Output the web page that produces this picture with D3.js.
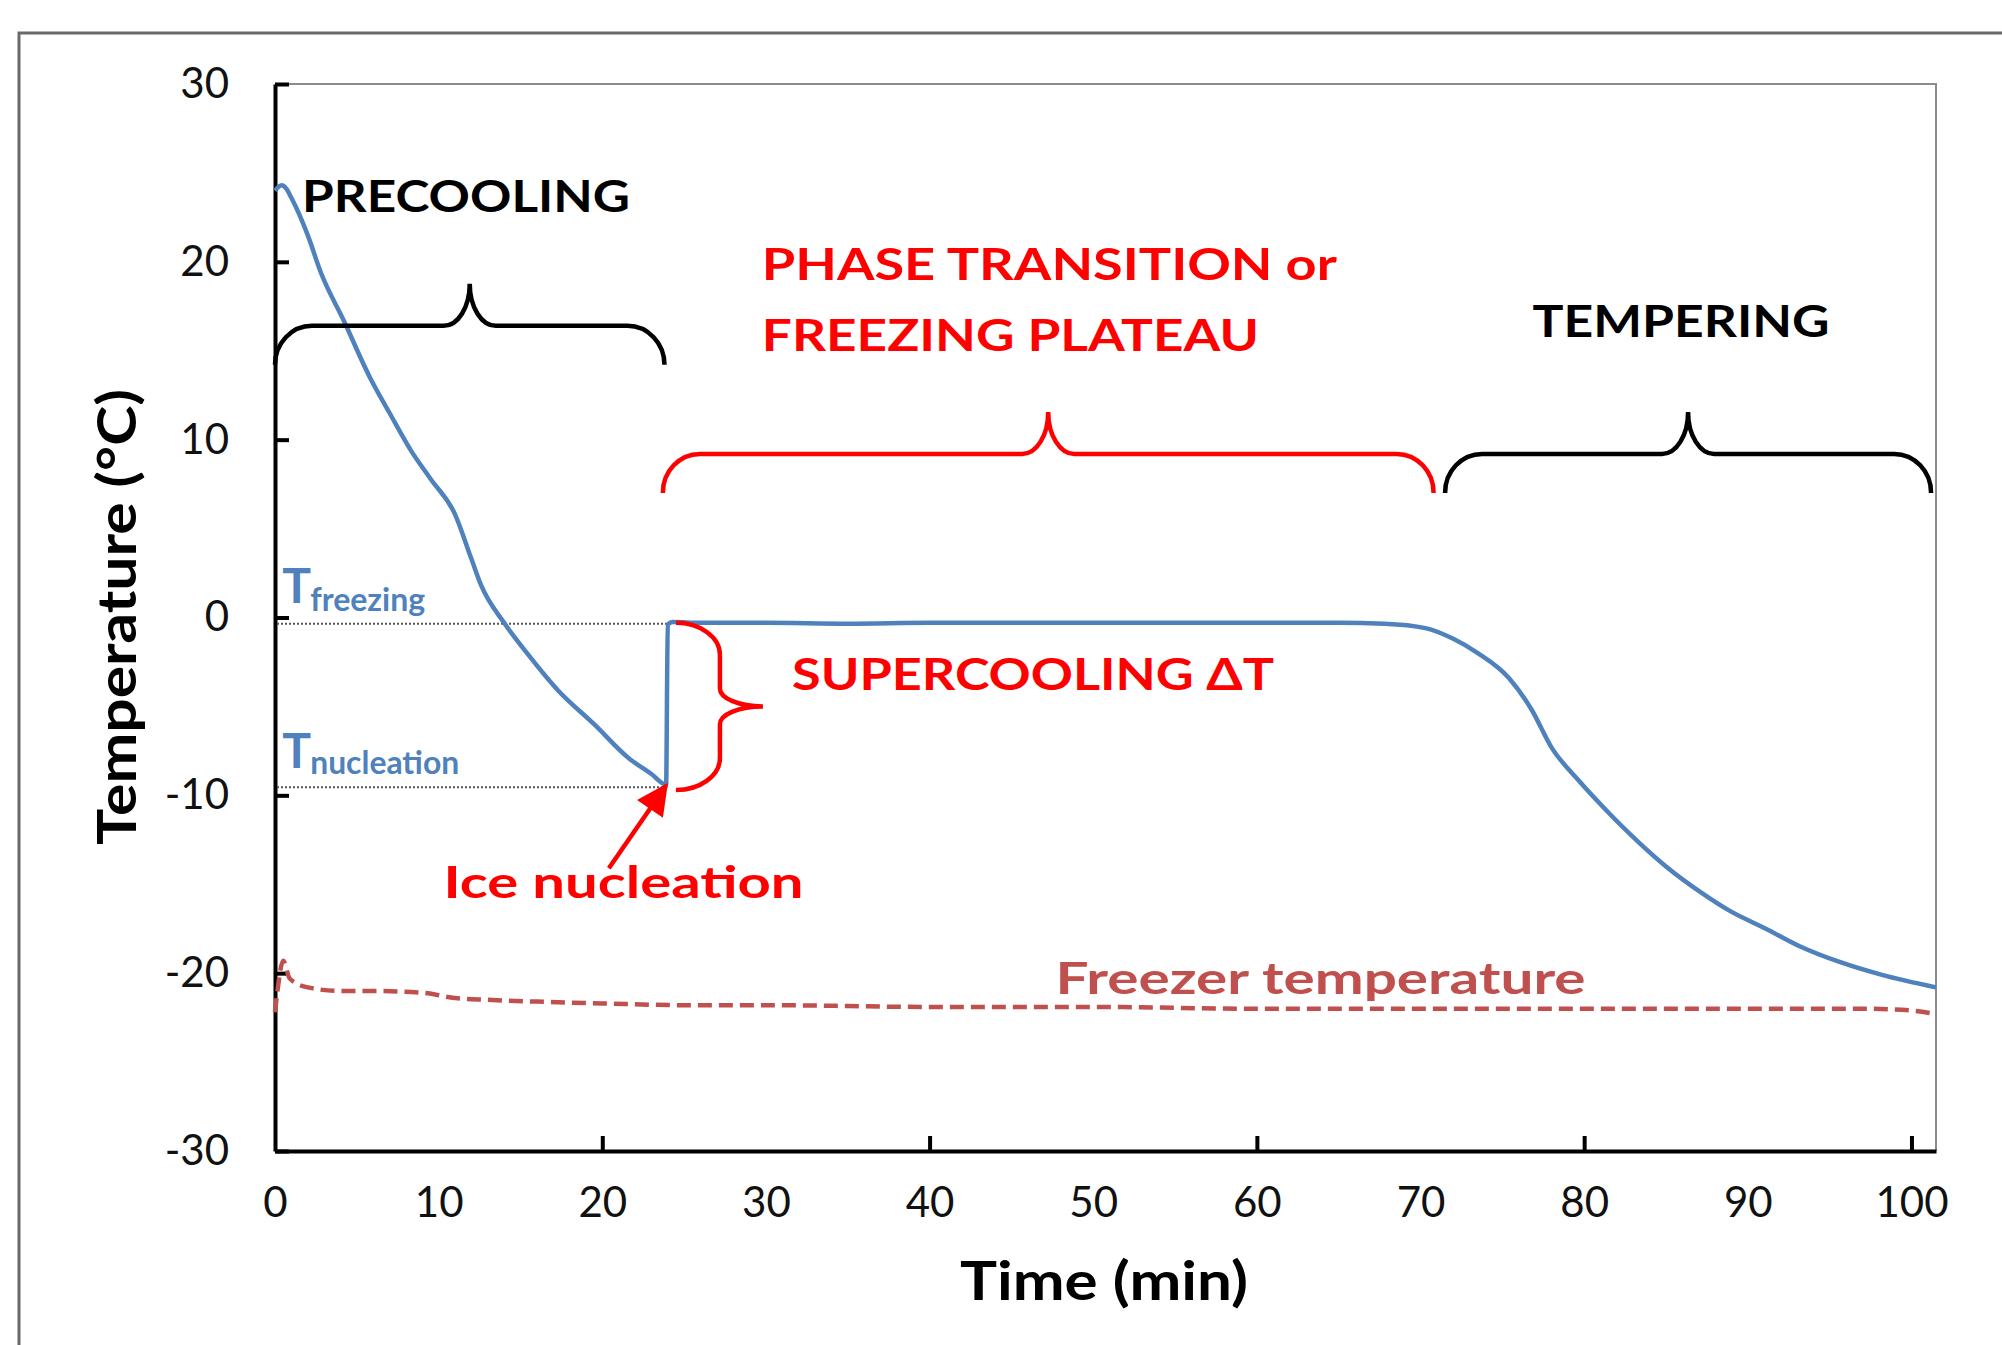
<!DOCTYPE html>
<html>
<head>
<meta charset="utf-8">
<script src="https://cdn.jsdelivr.net/npm/d3@7"></script>
<style>
  body { margin: 0; background: #fff; }
  svg { display: block; }
  text { font-family: Lato, "Open Sans", sans-serif; }
</style>
</head>
<body>
<svg id="chart"></svg>
<script>
// product temperature (blue)
const productTime = [0, 0.4, 0.7, 1.0, 2.0, 2.8, 4.2, 5.8, 7.0, 8.3, 9.5, 11.0, 12.0, 12.6, 14.0,
  15.4, 17.3, 19.5, 21.6, 23.0, 23.9, 24.0, 24.3, 26, 30, 35, 40, 45, 50, 55, 60, 65, 67.8,
  70.3, 72.0, 73.5, 75.4, 76.8, 78.0, 79.6, 81.2, 83.4, 85.0, 87.2, 88.9, 91.1, 93.2, 95.7,
  98.2, 101.5];
const productTemp = [24.0, 24.3, 24.1, 23.6, 21.5, 19.4, 16.7, 13.5, 11.5, 9.4, 7.8, 5.8, 3.3,
  1.8, -0.3, -2.0, -4.1, -6.0, -7.9, -8.8, -9.4, -0.4, -0.25, -0.3, -0.3, -0.35, -0.3, -0.3,
  -0.3, -0.3, -0.3, -0.3, -0.35, -0.6, -1.2, -2.0, -3.4, -5.2, -7.3, -9.1, -10.7, -12.7,
  -14.0, -15.5, -16.5, -17.5, -18.5, -19.4, -20.1, -20.8];

// freezer temperature (dashed red)
const freezerTime = [0, 0.15, 0.5, 0.9, 2.0, 4.0, 6.0, 9.0, 11.0, 13.0, 16.0, 20.0, 25.0, 30,
  40, 50, 60, 70, 80, 90, 97, 100, 101.5];
const freezerTemp = [-22.2, -21.0, -19.3, -20.3, -20.8, -21.0, -21.0, -21.1, -21.4, -21.5,
  -21.6, -21.7, -21.8, -21.8, -21.9, -21.9, -22.0, -22.0, -22.0, -22.0, -22.0, -22.1, -22.3];

const xTickValues = [0, 10, 20, 30, 40, 50, 60, 70, 80, 90, 100];
const yTickValues = [-30, -20, -10, 0, 10, 20, 30];

// phases marked by braces: [start, end] in minutes, brace level in °C
const phaseNames = ["PRECOOLING", "PHASE TRANSITION", "TEMPERING"];
const phaseStart = [0, 23.7, 71.5];
const phaseEnd = [23.8, 70.8, 101.2];
const phaseLevel = [16.4, 9.2, 9.2];

const freezingTemp = -0.35;
const nucleationTemp = -9.55;
const nucleationTime = 24.0;

const width = 2002, height = 1345;
const svg = d3.select("#chart").attr("width", width).attr("height", height);

const x = d3.scaleLinear().domain([0, 101.5]).range([275, 1936]);
const y = d3.scaleLinear().domain([-30, 30]).range([1151, 84]);

// outer frame of the figure
svg.append("rect")
  .attr("x", 19).attr("y", 33).attr("width", 2200).attr("height", 2000)
  .attr("fill", "none").attr("stroke", "#6a6a6a").attr("stroke-width", 3);

// thin top / right plot border
svg.append("path")
  .attr("d", `M${x(0)},${y(30)}H${x(101.5)}V${y(-30)}`)
  .attr("fill", "none").attr("stroke", "#8c8c8c").attr("stroke-width", 2);

// axes (plain hyphen minus like the original)
const fmt = d => String(d);

const xAxis = svg.append("g")
  .attr("transform", `translate(0,${y(-30)})`)
  .call(d3.axisBottom(x).tickValues(xTickValues).tickFormat(fmt)
    .tickSize(-15).tickSizeOuter(0).tickPadding(36));
xAxis.selectAll(".tick line").filter(d => d % 20 !== 0 || d === 0).remove();

const yAxis = svg.append("g")
  .attr("transform", `translate(${x(0)},0)`)
  .call(d3.axisLeft(y).tickValues(yTickValues).tickFormat(fmt)
    .tickSize(-14).tickSizeOuter(0).tickPadding(46));

[xAxis, yAxis].forEach(g => {
  g.select(".domain").attr("stroke", "#000").attr("stroke-width", 4);
  g.selectAll(".tick line").attr("stroke", "#000").attr("stroke-width", 4);
  g.selectAll(".tick text")
    .attr("fill", "#111").style("font-size", "42px").style("font-family", "Lato");
});

svg.append("text")
  .attr("x", 1104).attr("y", 1300)
  .attr("text-anchor", "middle")
  .style("font-size", "54px").style("font-weight", "bold")
  .attr("textLength", 288).attr("lengthAdjust", "spacingAndGlyphs")
  .text("Time (min)");

svg.append("text")
  .attr("transform", "translate(136,617) rotate(-90)")
  .attr("text-anchor", "middle")
  .style("font-size", "54px").style("font-weight", "bold")
  .attr("textLength", 456).attr("lengthAdjust", "spacingAndGlyphs")
  .text("Temperature (°C)");

// dotted reference lines for T freezing / T nucleation
[freezingTemp, nucleationTemp].forEach(t => {
  svg.append("line")
    .attr("x1", x(0) + 2).attr("x2", x(nucleationTime))
    .attr("y1", y(t)).attr("y2", y(t))
    .attr("stroke", "#555").attr("stroke-width", 2).attr("stroke-dasharray", "2,2");
});

const line = d3.line().x(d => x(d[0])).y(d => y(d[1])).curve(d3.curveMonotoneX);

svg.append("path")
  .datum(d3.zip(freezerTime, freezerTemp))
  .attr("d", line)
  .attr("fill", "none").attr("stroke", "#C0504D").attr("stroke-width", 4.5)
  .attr("stroke-dasharray", "14,7");

svg.append("path")
  .datum(d3.zip(productTime, productTemp))
  .attr("d", line)
  .attr("fill", "none").attr("stroke", "#4F81BD").attr("stroke-width", 4.5)
  .attr("stroke-linejoin", "round");

// curly braces
function hBrace(x0, x1, yl, armDepth, tipHeight) {
  const k = 0.5523, rx = 37, c = 26;
  const yEnd = yl + armDepth, yTip = yl - tipHeight, xm = (x0 + x1) / 2;
  return `M${x0},${yEnd}` +
    `C${x0},${yEnd - k * armDepth} ${x0 + rx - k * rx},${yl} ${x0 + rx},${yl}` +
    `L${xm - c},${yl}` +
    `C${xm - c + k * c},${yl} ${xm},${yTip + k * tipHeight} ${xm},${yTip}` +
    `C${xm},${yTip + k * tipHeight} ${xm + c - k * c},${yl} ${xm + c},${yl}` +
    `L${x1 - rx},${yl}` +
    `C${x1 - rx + k * rx},${yl} ${x1},${yEnd - k * armDepth} ${x1},${yEnd}`;
}

function vBrace(xe, y0, y1, spineDepth, tipLength) {
  const k = 0.5523, ry = 32, c = 18;
  const xs = xe + spineDepth, xt = xs + tipLength, ym = (y0 + y1) / 2;
  return `M${xe},${y0}` +
    `C${xe + k * spineDepth},${y0} ${xs},${y0 + ry - k * ry} ${xs},${y0 + ry}` +
    `L${xs},${ym - c}` +
    `C${xs},${ym - c + k * c} ${xt - k * tipLength},${ym} ${xt},${ym}` +
    `C${xt - k * tipLength},${ym} ${xs},${ym + c - k * c} ${xs},${ym + c}` +
    `L${xs},${y1 - ry}` +
    `C${xs},${y1 - ry + k * ry} ${xe + k * spineDepth},${y1} ${xe},${y1}`;
}

const braceColors = ["#000", "#ff0000", "#000"];
phaseNames.forEach((name, i) => {
  svg.append("path")
    .attr("d", hBrace(x(phaseStart[i]), x(phaseEnd[i]), y(phaseLevel[i]), 39, 42))
    .attr("fill", "none").attr("stroke", braceColors[i]).attr("stroke-width", 4.5);
});

svg.append("path")
  .attr("d", vBrace(x(24.5), y(-0.3), y(-9.7), 44, 43))
  .attr("fill", "none").attr("stroke", "#ff0000").attr("stroke-width", 4.5);

// ice nucleation arrow
svg.append("defs").append("marker")
  .attr("id", "head").attr("viewBox", "0 0 10 10")
  .attr("refX", 9).attr("refY", 5)
  .attr("markerWidth", 9).attr("markerHeight", 7).attr("markerUnits", "strokeWidth")
  .attr("orient", "auto")
  .append("path").attr("d", "M0,0L10,5L0,10Z").attr("fill", "#ff0000");

svg.append("line")
  .attr("x1", x(20.4)).attr("y1", y(-14.1))
  .attr("x2", x(23.9)).attr("y2", y(-9.45))
  .attr("stroke", "#ff0000").attr("stroke-width", 4.5)
  .attr("marker-end", "url(#head)");

// text annotations: anchor in data units, width in px
const notes = [
  { text: "PRECOOLING", t: 1.65, v: 22.8, w: 328, color: "#000" },
  { text: "PHASE TRANSITION or", t: 29.75, v: 19.0, w: 575, color: "#ff0000" },
  { text: "FREEZING PLATEAU", t: 29.75, v: 15.0, w: 497, color: "#ff0000" },
  { text: "TEMPERING", t: 76.85, v: 15.76, w: 297, color: "#000" },
  { text: "SUPERCOOLING ΔT", t: 31.6, v: -4.1, w: 482, color: "#ff0000" },
  { text: "Ice nucleation", t: 10.3, v: -15.75, w: 360, color: "#ff0000" },
  { text: "Freezer temperature", t: 47.7, v: -21.15, w: 530, color: "#C0504D" }
];

svg.selectAll(".note")
  .data(notes)
  .enter()
  .append("text")
  .attr("class", "note")
  .attr("x", d => x(d.t)).attr("y", d => y(d.v))
  .attr("fill", d => d.color)
  .style("font-size", "43px").style("font-weight", "bold")
  .attr("textLength", d => d.w).attr("lengthAdjust", "spacingAndGlyphs")
  .text(d => d.text);

// T_freezing and T_nucleation labels
const tLabels = [
  { sub: "freezing", v: 0.8, subV: 0.35, w: 115 },
  { sub: "nucleation", v: -8.45, subV: -8.8, w: 149 }
];
tLabels.forEach(d => {
  svg.append("text")
    .attr("x", x(0.45)).attr("y", y(d.v))
    .attr("fill", "#4F81BD")
    .style("font-size", "48px").style("font-weight", "bold")
    .text("T");
  svg.append("text")
    .attr("x", x(2.15)).attr("y", y(d.subV))
    .attr("fill", "#4F81BD")
    .style("font-size", "32px").style("font-weight", "bold")
    .attr("textLength", d.w).attr("lengthAdjust", "spacingAndGlyphs")
    .text(d.sub);
});
</script>
</body>
</html>
